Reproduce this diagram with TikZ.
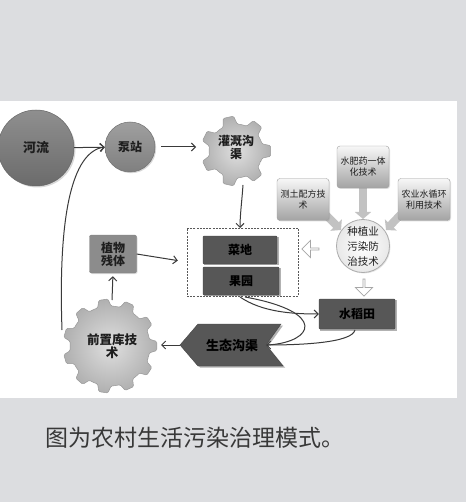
\documentclass[tikz,border=0pt]{standalone}
\usepackage{fontspec}
\setmainfont{Noto Sans CJK SC}
\usetikzlibrary{arrows.meta,shapes.arrows,shadows,calc}
\definecolor{bg}{HTML}{DCDDE0}
\definecolor{darkb}{HTML}{575757}
\definecolor{ln}{HTML}{3A3A3A}
\definecolor{labc}{HTML}{1E1E1E}
\newcommand\mygear[5]{%
  \pgfmathsetmacro\gp{360/#3}%
  \shadedraw[gearstyle, shift={(#1,#2)}] ({0.5*\gp}:#4)
   \foreach \i in {1,...,#3}{ -- ({\i*\gp-0.3*\gp}:#4) -- ({\i*\gp-0.17*\gp}:#5) -- ({\i*\gp+0.17*\gp}:#5) -- ({\i*\gp+0.3*\gp}:#4) -- ({\i*\gp+0.5*\gp}:#4)} -- cycle;}
\begin{document}
\begin{tikzpicture}[x=1pt,y=-1pt,
 lab/.style={font=\bfseries\fontsize{12}{13}\selectfont, text=labc, align=center, inner sep=0pt},
 darkbox/.style={fill=darkb, draw=darkb!80!black, line width=0.4pt, rounded corners=1pt},
 shadowfill/.style={fill=black!30},
 tech/.style={draw=gray!75, rounded corners=3pt, top color=gray!6, bottom color=gray!72, minimum width=52pt, minimum height=42pt, align=center, font=\fontsize{9}{11}\selectfont, text=labc, inner sep=1pt, drop shadow={opacity=0.25,shadow xshift=1pt,shadow yshift=-1pt}},
 conn/.style={draw=ln, line width=1pt, -{Straight Barb[length=4pt,width=8pt]}},
 plainconn/.style={draw=ln, line width=1pt},
 big/.style={draw=gray!48, line width=8pt, -{Triangle[length=7pt,width=16pt]}},
 hollow/.style={single arrow, draw=gray!70, fill=white, line width=0.7pt, minimum height=17pt, minimum width=17pt, single arrow head extend=2.5pt, inner sep=0pt},
 gearstyle/.style={draw=gray!80, line width=0.5pt, inner color=gray!25, outer color=gray!62, rounded corners=1.2pt}
]
\useasboundingbox (0,0) rectangle (466,502);
\fill[bg] (0,0) rectangle (466,502);
\fill[white] (0,101) rectangle (457,398);

% gears
\mygear{236}{151}{7}{27}{35}
\mygear{110}{346}{11}{40}{47}

% big arrows (under boxes)
\coordinate (b1s) at (322,211); \coordinate (b1e) at (341,230);
\coordinate (b2s) at (363,184); \coordinate (b2e) at (363,219);
\coordinate (b3s) at (404,211); \coordinate (b3e) at (386,230);
\draw[big] (b1s) -- (b1e);
\draw[big] (b2s) -- (b2e);
\draw[big] (b3s) -- (b3e);

% circles
\node[circle, minimum size=76pt, draw=black!60, line width=0.5pt, top color=gray!88, bottom color=black!58, drop shadow={opacity=0.3,shadow xshift=1.5pt,shadow yshift=-1.5pt}, lab, font=\bfseries\fontsize{13}{14}\selectfont] (river) at (36,148) {河流};
\node[circle, minimum size=50pt, draw=black!55, line width=0.5pt, top color=gray!75, bottom color=black!50, drop shadow={opacity=0.3,shadow xshift=1.2pt,shadow yshift=-1.2pt}, lab] (pump) at (130,147) {泵站};
\node[circle, minimum size=53pt, draw=gray!65, line width=0.8pt, inner color=white, outer color=gray!18, align=center, inner sep=0pt, font=\fontsize{10.5}{15}\selectfont, text=labc, drop shadow={opacity=0.2,shadow xshift=1pt,shadow yshift=-1pt}] (zz) at (363,246) {种植业\\污染防\\治技术};

% gear labels
\node[lab] (irr) at (236,147) {灌溉沟\\渠};
\node[lab, font=\bfseries\fontsize{12.5}{12.5}\selectfont] (qz) at (112,346) {前置库技\\术};

% dashed box and fields
\node[draw=black!65, dash pattern=on 2pt off 1.2pt, line width=0.6pt, minimum width=111pt, minimum height=68pt, inner sep=0pt] (dbox) at (242.5,262) {};
\fill[shadowfill] (204,237) rectangle (279,265);
\fill[shadowfill] (204,268) rectangle (281,296);
\fill[shadowfill] (320,300) rectangle (397,331);
\node[darkbox, minimum width=74pt, minimum height=28pt, lab, text=black] (cd) at (240,250) {菜地};
\node[darkbox, minimum width=76pt, minimum height=28pt, lab, text=black] (gy) at (241,281) {果园};
\node[darkbox, minimum width=76pt, minimum height=30pt, lab, text=black] (sdt) at (357,314) {水稻田};
\node[rounded corners=2pt, fill=black!45, draw=black!50, minimum width=47pt, minimum height=38pt, lab, drop shadow={opacity=0.25,shadow xshift=1pt,shadow yshift=-1pt}] (zw) at (113,254) {植物\\残体};

% technique boxes
\node[tech] (ct) at (303,199.5) {测土配方技\\术};
\node[tech] (sf) at (363,167) {水肥药一体\\化技术};
\node[tech] (ny) at (424,199.5) {农业水循环\\利用技术};

% hollow arrows
\node[hollow, shape border rotate=180] (hl) at (311,249) {};
\node[hollow, shape border rotate=270] (hd) at (364,287) {};

% ecological ditch chevron
\coordinate (stW) at (180,345);
\coordinate (stN) at (266,345);
\fill[shadowfill] (182,346.5) -- (200,325.5) -- (283,325.5) -- (268,346.5) -- (285,367.5) -- (200,367.5) -- cycle;
\filldraw[fill=darkb, draw=darkb!80!black, line width=0.4pt] (stW) -- (198,324) -- (281,324) -- (stN) -- (283,366) -- (198,366) -- cycle;
\node[lab, text=black, font=\bfseries\fontsize{13}{14}\selectfont] (st) at (232,345) {生态沟渠};

% connectors
\coordinate (irrW) at (196,147);
\coordinate (irrS) at (243,185);
\coordinate (dboxT) at (240,228);
\coordinate (qzN) at (112,300);
\coordinate (qzE) at (158,345);
\coordinate (qzL) at (62,330);
\coordinate (gyB) at (240,297);
\coordinate (gyB2) at (245,297);
\coordinate (sdtB) at (355,330);

\draw[conn] (river) -- (pump);
\draw[conn, shorten <=6pt] (pump) -- (irrW);
\draw[conn] (irrS) .. controls (242,200) and (240,215) .. (dboxT);
\draw[conn, shorten >=9pt] (zw.east) -- (dbox.west);
\draw[conn, shorten >=3pt] (qzN) -- (zw.south);
\draw[conn, shorten >=3pt] (stW) -- (qzE);
\draw[conn] (qzL) .. controls (58,215) and (72,152) .. (pump.west);
\draw[conn] (gyB) .. controls (262,312) and (292,314) .. (sdt.west);
\draw[plainconn] (gyB2) .. controls (328,312) and (314,342) .. ([xshift=2pt]stN);
\draw[conn] (sdtB) .. controls (352,343) and (300,345) .. (stN);

% caption
\node[font=\fontsize{23}{25}\selectfont, text=black!78, anchor=west, inner sep=0pt] (cap) at (45,438) {图为农村生活污染治理模式。};
\end{tikzpicture}
\end{document}
